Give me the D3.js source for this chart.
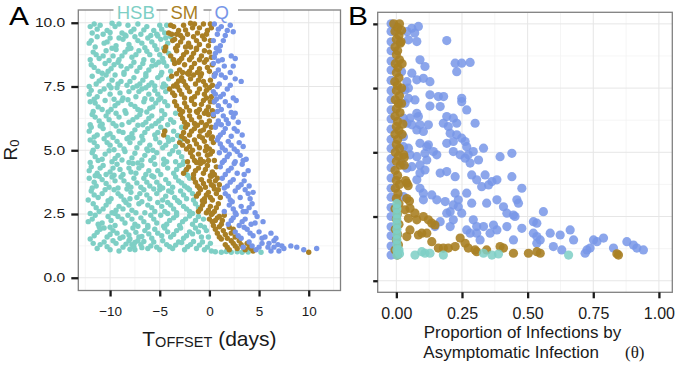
<!DOCTYPE html>
<html>
<head>
<meta charset="utf-8">
<script src="https://cdn.jsdelivr.net/npm/d3@7"></script>
<style>
  body { margin: 0; background: #fff; }
  text { font-family: "Liberation Sans", Helvetica, Arial, sans-serif; }
</style>
</head>
<body>
<div class="chart"></div>
<script>
// ---- data: panel A (T_offset in days, R0) ----
const hsbA = [
  [-11.6,9.95],[-11,9.9],[-10.3,9.7],[-9.5,9.85],[-8.8,9.6],[-8.2,9.9],[-7.6,9.75],[-6.9,9.55],[-6.3,9.85],[-5.6,9.7],[-5.0,9.9],[-4.5,9.6],[-11.8,9.6],[-10.7,9.55],[-9.1,9.95],[-7.2,9.95],[-5.9,9.5],[-4.8,9.75],[-8.5,9.52],
  [-11.9,9.3],[-11.3,9.45],[-10.6,9.2],[-10,9.4],[-9.4,9.1],[-8.7,9.35],[-8.1,9.15],[-7.5,9.45],[-6.8,9.2],[-6.2,9.4],[-5.5,9.1],[-4.9,9.35],[-4.2,9.2],[-3.9,9.45],[-11.5,9.05],[-9.8,9.0],[-7.9,9.0],[-6.5,9.02],[-4.6,9.0],
  [-11.7,8.85],[-11.1,8.6],[-10.4,8.9],[-9.7,8.7],[-9.1,8.55],[-8.5,8.85],[-7.8,8.65],[-7.1,8.9],[-6.6,8.55],[-6,8.75],[-5.3,8.95],[-4.7,8.6],[-4.1,8.8],[-3.7,8.55],[-12,8.55],[-10.1,8.52],[-8.2,8.97],[-5.7,8.52],
  [-11.9,8.35],[-11.2,8.1],[-10.5,8.4],[-9.9,8.2],[-9.2,8.45],[-8.6,8.05],[-7.9,8.3],[-7.3,8.1],[-6.7,8.4],[-6.1,8.15],[-5.4,8.35],[-4.8,8.05],[-4.3,8.3],[-3.9,8.1],[-10.8,8.02],[-8.9,8.3],[-6.4,8.0],[-5.1,8.45],
  [-11.8,7.9],[-11.4,7.6],[-10.8,7.8],[-10.1,7.55],[-9.5,7.95],[-8.9,7.7],[-8.3,7.55],[-7.6,7.85],[-7,7.6],[-6.4,7.9],[-5.8,7.65],[-5.2,7.85],[-4.6,7.6],[-4.1,7.8],[-12.1,7.5],[-9.8,7.75],[-7.3,7.52],[-5.5,7.52],[-8.6,7.98],
  [-11.9,7.35],[-11.3,7.1],[-10.6,7.4],[-10,7.2],[-9.3,7.45],[-8.7,7.05],[-8.1,7.3],[-7.4,7.1],[-6.8,7.4],[-6.1,7.2],[-5.5,7.35],[-4.9,7.05],[-4.4,7.3],[-11.6,7.0],[-9.6,7.0],[-7.7,7.45],[-5.8,7.0],[-6.5,7.02],
  [-12,6.9],[-11.2,6.7],[-10.5,6.95],[-9.9,6.6],[-9.2,6.85],[-8.5,6.55],[-7.9,6.8],[-7.2,6.6],[-6.6,6.9],[-6,6.65],[-5.4,6.85],[-4.8,6.55],[-4.2,6.75],[-11.7,6.52],[-10.2,6.5],[-8.2,6.98],[-6.3,6.5],[-5.1,6.98],
  [-11.8,6.4],[-11.1,6.15],[-10.4,6.35],[-9.7,6.05],[-9.1,6.3],[-8.4,6.45],[-7.7,6.2],[-7,6.4],[-6.4,6.1],[-5.8,6.35],[-5.1,6.15],[-4.5,6.4],[-3.9,6.2],[-3.4,6.45],[-12,6.0],[-10.8,6.02],[-8.8,6.0],[-6.7,6.0],[-4.2,6.0],
  [-11.9,5.9],[-11.3,5.6],[-10.7,5.85],[-10,5.65],[-9.4,5.95],[-8.7,5.7],[-8.1,5.5],[-7.5,5.8],[-6.8,5.55],[-6.2,5.85],[-5.5,5.6],[-4.9,5.9],[-4.2,5.5],[-3.6,5.75],[-2.8,5.9],[-11.6,5.52],[-9.7,5.5],[-7.2,5.98],[-5.2,5.7],
  [-12,5.4],[-11.3,5.15],[-10.6,5.45],[-10,5.2],[-9.3,5.35],[-8.6,5.05],[-8,5.3],[-7.3,5.1],[-6.7,5.4],[-6,5.2],[-5.4,5.45],[-4.7,5.1],[-4.1,5.35],[-3.4,5.15],[-11.7,5.0],[-9.6,5.02],[-7.7,5.48],[-5.7,5.0],[-2.9,5.4],
  [-11.8,4.9],[-11.2,4.6],[-10.5,4.85],[-9.8,4.55],[-9.2,4.8],[-8.5,4.95],[-7.8,4.7],[-7.2,4.5],[-6.5,4.8],[-5.9,4.6],[-5.3,4.9],[-4.6,4.65],[-4,4.85],[-3.4,4.55],[-2.8,4.75],[-12,4.52],[-10.1,4.98],[-8.1,4.52],[-6.2,4.98],[-3.7,4.98],
  [-11.9,4.35],[-11.3,4.1],[-10.7,4.4],[-10,4.15],[-9.3,4.45],[-8.7,4.05],[-8.1,4.3],[-7.4,4.1],[-6.8,4.4],[-6.1,4.2],[-5.5,4.45],[-4.9,4.05],[-4.2,4.3],[-3.6,4.1],[-3,4.4],[-2.4,4.2],[-11.5,4.0],[-9.6,4.02],[-7.7,4.48],[-5.8,4.0],
  [-12.1,3.9],[-11.4,3.6],[-10.8,3.85],[-10.1,3.55],[-9.5,3.8],[-8.9,3.95],[-8.2,3.65],[-7.6,3.9],[-6.9,3.55],[-6.3,3.75],[-5.6,3.95],[-5,3.6],[-4.4,3.85],[-3.7,3.55],[-3.1,3.8],[-2.5,3.6],[-2,3.9],[-11.8,3.52],[-9.2,3.52],[-7.3,3.72],[-4.7,3.52],
  [-11.9,3.4],[-11.2,3.15],[-10.5,3.45],[-9.9,3.1],[-9.2,3.3],[-8.6,3.05],[-7.9,3.35],[-7.3,3.15],[-6.6,3.45],[-6,3.1],[-5.3,3.3],[-4.7,3.05],[-4.1,3.4],[-3.5,3.15],[-2.9,3.4],[-2.3,3.1],[-1.7,3.3],[-12.2,3.05],[-10.2,3.02],[-8.3,3.48],[-5.6,3.48],
  [-11.7,2.9],[-11.1,2.6],[-10.4,2.85],[-9.8,2.55],[-9.1,2.8],[-8.4,2.95],[-7.8,2.65],[-7.1,2.9],[-6.5,2.55],[-5.8,2.75],[-5.2,2.95],[-4.5,2.6],[-3.9,2.85],[-3.3,2.55],[-2.6,2.8],[-2,2.6],[-1.4,2.9],[-12,2.52],[-9.5,2.52],[-6.8,2.98],[-4.2,2.52],
  [-12.2,2.2],[-11.5,2.45],[-10.8,2.15],[-10.2,2.4],[-9.5,2.05],[-8.8,2.3],[-8.2,2.45],[-7.5,2.1],[-6.9,2.35],[-6.2,2.05],[-5.6,2.3],[-4.9,2.45],[-4.3,2.1],[-3.6,2.35],[-3,2.05],[-2.4,2.3],[-1.7,2.1],[-1.1,2.4],[-11.1,2.0],[-7.2,2.02],[-4.6,2.02],[-0.9,2.05],
  [-11.6,1.65],[-11,1.9],[-10.3,1.6],[-9.7,1.85],[-9,1.55],[-8.4,1.8],[-7.7,1.95],[-7.1,1.6],[-6.5,1.85],[-5.8,1.55],[-5.2,1.75],[-4.5,1.95],[-3.9,1.6],[-3.3,1.85],[-2.6,1.55],[-2,1.8],[-1.4,1.95],[-0.8,1.6],[-0.3,1.85],[-12,1.52],[-10,1.98],[-8,1.52],[-6.2,1.98],
  [-11.3,1.15],[-10.6,1.4],[-10,1.1],[-9.4,1.35],[-8.7,1.2],[-8.1,1.45],[-7.5,1.1],[-6.9,1.3],[-6.2,1.15],[-5.6,1.4],[-5,1.1],[-4.3,1.3],[-3.7,1.15],[-3.1,1.4],[-2.5,1.1],[-1.9,1.3],[-1.3,1.15],[-0.7,1.4],[-0.2,1.2],[-7.8,1.3],[-7.2,1.45],[-11.7,1.35],[-9.1,1.05],[-4.7,1.45],
  [0.6,1.02],[1.2,1.0],[1.7,1.03],[2.2,1.0],[2.8,1.02],[3.3,1.0],[3.9,1.01],[5.2,1.0],[0.2,1.05],
  // in-between points
  [-11.3,9.75],[-10,9.62],[-9.8,9.98],[-7.9,9.65],[-6.6,9.72],[-5.3,9.55],[-4.3,9.9],[-12.0,9.85],
  [-12.1,9.2],[-10.3,9.25],[-9.1,9.4],[-7.2,9.3],[-5.8,9.25],[-5.2,9.48],[-4.4,9.4],[-8.4,9.48],
  [-11.4,8.75],[-10.7,8.7],[-9.4,8.95],[-8.8,8.7],[-7.4,8.75],[-6.3,8.88],[-5,8.75],[-4.4,8.95],
  [-11.6,8.25],[-10.2,8.1],[-9.6,8.35],[-8.3,8.2],[-7.6,8.45],[-7,8.25],[-5.8,8.3],[-4.6,8.45],
  [-11.1,7.72],[-10.4,7.95],[-9.2,7.6],[-8.0,7.7],[-6.7,7.75],[-6.1,7.55],[-4.9,7.95],[-4.4,7.52],
  [-12.1,7.2],[-11,7.3],[-9.9,7.45],[-9,7.25],[-7.1,7.3],[-6.4,7.45],[-5.2,7.2],[-4.7,7.48],
  [-11.5,6.85],[-10.8,6.6],[-9.5,6.75],[-8.8,6.95],[-7.5,6.72],[-6.9,6.55],[-5.7,6.7],[-4.5,6.9],
  [-11.5,6.3],[-10.1,6.2],[-9.4,6.45],[-8.1,6.1],[-7.3,6.3],[-6.1,6.25],[-5.4,6.05],[-4.8,6.25],[-3.6,6.1],
  [-12.1,5.75],[-11,5.95],[-10.3,5.6],[-9.1,5.75],[-7.8,5.65],[-6.5,5.7],[-5.8,5.95],[-4.5,5.78],[-3.2,5.58],
  [-11.6,5.3],[-10.3,5.3],[-9.0,5.2],[-8.3,5.45],[-7,5.28],[-6.3,5.05],[-5.0,5.3],[-4.4,5.2],[-3.7,5.42],
  [-11.5,4.75],[-10.8,4.65],[-9.5,4.68],[-8.8,4.62],[-7.5,4.88],[-6.8,4.62],[-5.6,4.72],[-4.3,4.55],[-3.1,4.92],[-2.6,4.55],
  [-12.1,4.2],[-11,4.3],[-10.4,4.05],[-9.7,4.3],[-9,4.25],[-7.9,4.15],[-7.1,4.3],[-6.4,4.05],[-5.2,4.2],[-4.6,4.45],[-3.3,4.25],[-2.7,4.45],[-2.2,4.02],
  [-11.6,3.75],[-11.1,3.98],[-10.4,3.7],[-9.8,3.95],[-8.6,3.8],[-7.9,3.55],[-6.6,3.9],[-6.0,3.6],[-5.3,3.75],[-4.1,3.7],[-3.4,3.95],[-2.8,3.72],[-2.2,3.52],
  [-11.6,3.25],[-10.8,3.3],[-9.6,3.45],[-8.9,3.2],[-8.0,3.1],[-7.0,3.3],[-6.3,3.25],[-5.0,3.45],[-4.4,3.2],[-3.8,3.35],[-3.2,3.02],[-2.6,3.25],[-2,3.45],[-1.6,3.05],
  [-11.4,2.75],[-10.7,2.7],[-10.1,2.98],[-9.4,2.65],[-8.7,2.7],[-8.1,2.85],[-7.4,2.55],[-6.2,2.85],[-5.5,2.6],[-4.8,2.8],[-4.2,2.95],[-3.6,2.7],[-3.0,2.95],[-2.3,2.7],[-1.7,2.52],[-1.1,2.75],
  [-11.8,2.3],[-11.2,2.1],[-9.9,2.25],[-9.2,2.4],[-8.5,2.15],[-7.8,2.3],[-6.6,2.2],[-5.9,2.45],[-5.3,2.15],[-4.0,2.25],[-3.3,2.45],[-2.7,2.2],[-2.0,2.42],[-1.4,2.25],[-0.6,2.3],
  [-11.3,1.78],[-10.6,1.95],[-10.0,1.7],[-9.3,1.75],[-8.7,1.6],[-8.1,1.68],[-7.4,1.78],[-6.8,1.62],[-6.1,1.72],[-5.5,1.9],[-4.8,1.65],[-4.2,1.8],[-3.6,1.7],[-2.9,1.95],[-2.3,1.65],[-1.7,1.72],[-1.1,1.8],[-0.5,1.98],[-0.1,1.6],
  [-11.0,1.3],[-10.3,1.22],[-9.7,1.45],[-8.4,1.32],[-7.5,1.38],[-6.6,1.42],[-5.9,1.25],[-5.3,1.2],[-4.0,1.22],[-3.4,1.28],[-2.8,1.38],[-2.2,1.22],[-1.6,1.42],[-1.0,1.28],[-0.5,1.1],[0.1,1.35],[-8.0,1.12],[-6.8,1.18],[-7.6,1.22]
];
const smA = [
  [-4.1,9.6],[-3.6,9.85],[-3.1,9.7],[-2.6,9.9],[-2.2,9.55],[-1.7,9.8],[-1.2,9.6],[-0.6,9.95],[-0.2,9.7],[0.1,9.95],[-3.8,9.55],[-2.9,9.5],[-1.5,9.95],[0.2,9.8],
  [-3.7,9.3],[-3.2,9.1],[-2.7,9.4],[-2.1,9.2],[-1.6,9.45],[-1,9.15],[-0.5,9.35],[-0.1,9.1],[-3.4,9.0],[-2.4,9.05],[-1.3,9.0],[-4.4,9.05],
  [-4.5,8.9],[-3.9,8.7],[-3.3,8.9],[-2.8,8.6],[-2.3,8.85],[-1.8,8.65],[-1.3,8.95],[-0.8,8.7],[-0.3,8.55],[0,8.85],[-3.0,8.52],[-2,8.55],
  [-3.5,8.4],[-3,8.15],[-2.5,8.35],[-2,8.1],[-1.5,8.4],[-1,8.2],[-0.5,8.45],[0,8.1],[0.3,8.35],[-3.3,8.0],[-2.2,8.02],[-0.8,8.0],
  [-3.8,7.9],[-3.3,7.6],[-2.8,7.85],[-2.4,7.55],[-1.9,7.8],[-1.4,7.6],[-0.9,7.9],[-0.4,7.55],[0.1,7.75],[0.5,7.95],[-3.6,7.52],[-2.1,7.98],[-0.3,7.35],
  [-4,7.4],[-3.5,7.15],[-3,7.35],[-2.5,7.05],[-2,7.3],[-1.5,7.1],[-1,7.4],[-0.5,7.2],[0,7.45],[0.2,7.1],[-3.2,7.48],[-1.8,7.02],
  [-3.5,6.9],[-3,6.6],[-2.5,6.85],[-2,6.55],[-1.5,6.8],[-1,6.6],[-0.6,6.95],[-0.1,6.7],[0.4,6.9],[-2.7,6.52],[-1.3,6.52],[0.3,6.55],
  [-2.9,6.4],[-2.5,6.1],[-2,6.35],[-1.5,6.05],[-1,6.3],[-0.5,6.45],[0,6.15],[0.4,6.35],[-2.2,6.0],[-1.2,6.48],[-0.3,6.0],
  [-4.6,5.6],[-4.5,5.75],[-2.4,5.9],[-2,5.6],[-1.5,5.85],[-1,5.55],[-0.6,5.8],[-0.2,5.6],[0.2,5.9],[-2.8,5.55],[-1.2,5.98],[0.3,5.52],
  [-3,5.3],[-2.5,5.45],[-2,5.15],[-1.5,5.4],[-1,5.1],[-0.5,5.35],[0,5.05],[0.4,5.3],[-1.7,5.0],[-0.7,5.48],[-2.3,5.05],
  [-1.9,4.9],[-1.5,4.6],[-1.1,4.85],[-0.6,4.55],[-0.2,4.8],[0.3,4.95],[0.5,4.6],[-1.3,4.52],[-0.4,4.98],[-2.2,4.55],
  [-2.6,4.1],[-2.1,4.35],[-1.6,4.05],[-1.1,4.3],[-0.6,4.1],[-0.2,4.4],[0.3,4.15],[0.7,4.35],[-0.9,4.48],[0.1,4.0],
  [-1.6,3.9],[-1.2,3.6],[-0.8,3.85],[-0.4,3.55],[0,3.8],[0.4,3.6],[0.8,3.9],[1,3.65],[-1,3.52],[0.2,3.98],
  [-1.3,3.2],[-0.9,3.45],[-0.5,3.1],[-0.1,3.35],[0.3,3.05],[0.7,3.3],[1.1,3.15],[-0.7,3.02],[0.5,3.48],
  [-1.1,2.6],[-0.7,2.85],[-0.3,2.55],[0.1,2.8],[0.5,2.6],[0.9,2.9],[-0.5,2.98],[0.3,2.52],
  [0,2.3],[0.4,2.05],[0.8,2.35],[1.2,2.1],[1.5,2.45],[0.2,2.48],[1,2.0],
  [0.6,1.9],[1,1.6],[1.4,1.85],[1.8,1.55],[2.2,1.75],[2.6,1.6],[1.2,1.52],[2,1.98],
  [1.6,1.3],[2,1.1],[2.4,1.35],[2.8,1.15],[3.2,1.3],[3.6,1.1],[4,1.2],[4.4,1.05],[3,1.45],[2.2,1.45],[10,1.0],
  // in-between points
  [-3.9,9.9],[-3.3,9.55],[-2.4,9.72],[-1.9,9.98],[-1,9.8],[-0.3,9.55],
  [-3.5,9.35],[-2.9,9.25],[-1.9,9.05],[-1.3,9.3],[-0.7,9.48],[0.1,9.3],
  [-3.6,8.55],[-2.6,8.75],[-1.6,8.8],[-1.0,8.55],[-0.5,8.9],[0.2,8.65],
  [-3.1,8.45],[-2.7,8.05],[-1.8,8.25],[-1.2,8.05],[-0.2,8.25],
  [-3.1,7.72],[-2.6,7.7],[-1.6,7.95],[-1.1,7.75],[-0.6,7.7],[0.3,7.55],
  [-3.7,7.25],[-2.8,7.2],[-2.2,7.45],[-1.2,7.25],[-0.3,7.05],
  [-3.3,6.75],[-2.3,6.7],[-1.8,6.95],[-0.8,6.8],[-0.3,6.55],[0.1,6.9],
  [-2.7,6.25],[-1.8,6.2],[-0.8,6.1],[-0.1,6.4],
  [-2.6,5.7],[-1.8,5.75],[-0.9,5.75],[-0.4,5.95],[0,5.7],
  [-2.7,5.2],[-2.2,5.35],[-1.3,5.25],[-0.3,5.15],[0.2,5.45],
  [-1.7,4.75],[-0.9,4.65],[-0.1,4.6],[0.1,4.85],
  [-2.3,4.25],[-1.4,4.2],[-0.4,4.25],[0.5,4.05],
  [-1.4,3.75],[-0.6,3.7],[0.2,3.65],[0.6,3.8],
  [-1.1,3.3],[-0.3,3.25],[0.1,3.15],[0.9,3.45],
  [-0.9,2.7],[-0.1,2.65],[0.7,2.75],
  [0.3,2.2],[0.6,2.25],[1.0,2.4],[1.3,2.25],
  [0.8,1.75],[1.6,1.7],[2.4,1.9],
  [1.8,1.2],[2.6,1.25],[3.4,1.2],[3.8,1.35],[4.2,1.15]
];
const qA = [
  [0.5,9.95],[1.2,9.85],[1.8,9.7],[2.4,9.65],[0.8,9.55],[1.6,9.5],
  [0.4,9.3],[1.1,9.1],[0.7,9.0],
  [0.6,8.8],[1.3,8.55],[2.2,8.7],[2.6,8.6],[0.9,8.5],
  [0.4,8.4],[0.9,8.15],[1.5,8.3],[0.6,8.0],[2.1,8.05],
  [0.5,7.9],[1,7.6],[1.6,7.85],[2.1,7.55],[3.2,7.7],[0.8,7.5],
  [0.4,7.3],[1.1,7.1],[1.8,7.4],[0.7,7.0],[2.4,7.05],
  [0.5,6.9],[1.2,6.6],[2,6.75],[2.7,6.95],[0.8,6.52],
  [0.4,6.4],[0.9,6.15],[1.4,6.35],[1.9,6.05],[2.4,6.3],[2.9,6.1],[1.2,6.0],[2.2,6.48],
  [0.6,5.9],[1.1,5.6],[1.6,5.85],[2.2,5.55],[2.8,5.75],[3.3,5.6],[0.9,5.5],
  [0.8,5.4],[1.3,5.1],[1.9,5.35],[2.5,5.05],[3,5.3],[3.4,5.15],[1.6,5.0],
  [1,4.9],[1.5,4.6],[2,4.85],[2.6,4.55],[3.1,4.8],[3.7,4.65],[1.3,4.52],
  [1.1,4.35],[1.6,4.05],[2.2,4.3],[2.8,4.1],[3.3,4.45],[3.9,4.2],[2.5,4.48],
  [1.3,3.9],[1.8,3.6],[2.4,3.85],[2.9,3.55],[3.5,3.8],[4,3.6],[1.5,3.52],
  [1.6,3.3],[2.1,3.05],[2.6,3.4],[3.1,3.15],[3.6,3.45],[4.1,3.1],[4.4,3.35],
  [1.5,2.6],[2,2.85],[2.6,2.55],[3.2,2.8],[3.7,2.6],[4.3,2.9],[2.3,2.98],[4.6,2.55],
  [1.9,2.1],[2.4,2.35],[3,2.05],[3.6,2.3],[4.2,2.1],[4.8,2.4],[5.4,2.2],[2.7,2.48],
  [2.6,1.8],[3.2,1.55],[3.8,1.9],[4.4,1.65],[5,1.8],[5.6,1.6],[6.2,1.75],[6.7,1.55],[3.5,1.98],
  [3.4,1.2],[4,1.4],[4.7,1.1],[5.3,1.35],[5.9,1.2],[6.5,1.45],[6.9,1.3],[7.5,1.15],[8.2,1.25],[8.8,1.2],[10.8,1.15],[6.2,1.05],[7,1.05],
  // in-between points
  [0.9,9.75],[2.1,9.9],[1.4,9.3],[0.5,8.65],[1.0,8.9],[2.4,8.3],[1.2,7.95],[2.6,7.8],[1.4,7.2],[0.6,7.2],[1.6,6.9],[0.9,6.75],
  [1.7,6.2],[2.6,6.45],[0.7,6.0],[1.4,5.7],[2.5,5.85],[1.1,5.25],[2.2,5.2],[2.8,4.95],[1.8,4.75],[3.4,4.6],[1.9,4.2],[3.5,4.05],
  [2.1,3.75],[3.2,3.65],[1.9,3.2],[3.9,3.3],[2.4,2.7],[3.4,2.6],[4.0,2.75],[2.2,2.25],[3.3,2.2],[4.6,2.15],[2.9,1.65],[4.1,1.75],
  [5.3,1.55],[4.3,1.25],[5.0,1.2],[6.0,1.35],[7.3,1.25],[9.5,1.1],[6.5,1.2]
];

// ---- data: panel B (theta, R0) ----
const qStripB = [
  [-0.02,1.0],[-0.02,1.35],[-0.02,1.75],[-0.02,2.1],[-0.02,2.5],[-0.02,2.85],[-0.02,3.25],[-0.02,3.6],[-0.02,4.0],
  [-0.02,4.4],[-0.02,4.75],[-0.02,5.15],[-0.02,5.5],[-0.02,5.9],[-0.02,6.3],[-0.02,6.65],[-0.02,7.05],[-0.02,7.4],
  [-0.02,7.8],[-0.02,8.2],[-0.02,8.55],[-0.02,8.95],[-0.02,9.3],[-0.02,9.7],[-0.02,10.0]
];
const qB = [
  [0.059,9.83],[0.084,9.9],[0.04,9.7],[0.07,9.64],[0.046,9.38],[0.078,9.31],[0.192,9.35],
  [0.09,8.6],[0.109,8.34],[0.224,8.47],[0.249,8.47],[0.281,8.5],[0.23,8.14],
  [0.02,8.14],[0.059,8.08],[0.103,7.88],[0.078,7.82],[0.04,7.75],[0.128,7.75],[0.046,7.5],[0.033,7.43],
  [0.128,7.24],[0.16,7.17],[0.18,7.17],[0.249,7.1],[0.249,6.97],[0.046,7.1],[0.071,7.04],
  [0.128,6.8],[0.167,6.78],[0.268,6.65],[0.078,6.52],
  [0.027,6.33],[0.052,6.33],[0.084,6.39],[0.04,6.13],[0.059,6.07],[0.09,6.07],[0.122,6.07],[0.192,6.39],[0.217,6.33],
  [0.179,6.13],[0.198,6.0],[0.23,6.13],[0.3,6.13],[0.078,5.87],[0.103,5.81],
  [0.205,5.74],[0.23,5.68],[0.249,5.55],[0.262,5.42],[0.268,5.22],[0.217,5.42],[0.192,5.35],
  [0.027,5.22],[0.046,5.16],[0.09,5.35],[0.116,5.22],[0.122,5.29],[0.052,4.9],[0.078,4.83],[0.109,4.96],[0.141,5.03],[0.154,4.9],[0.116,4.7],
  [0.217,5.03],[0.243,4.9],[0.274,4.9],[0.262,4.77],[0.293,5.03],[0.332,5.16],[0.313,4.7],[0.281,4.58],[0.44,4.96],[0.395,4.83],
  [0.059,4.44],[0.09,4.51],[0.109,4.31],[0.09,4.19],[0.078,3.93],[0.167,4.19],[0.192,4.25],[0.224,4.05],[0.287,4.12],[0.306,3.93],
  [0.338,4.12],[0.364,3.86],[0.351,3.73],[0.325,3.66],[0.383,3.93],[0.44,4.05],[0.478,3.6],
  [0.09,3.6],[0.103,3.41],[0.135,3.34],[0.103,3.15],[0.154,3.15],[0.186,3.08],
  [0.224,3.41],[0.236,3.15],[0.217,2.95],[0.205,2.69],[0.192,2.63],[0.236,2.88],[0.249,2.63],[0.268,3.41],[0.287,3.02],[0.344,3.02],
  [0.383,3.15],[0.408,2.88],[0.421,2.63],[0.446,2.56],[0.459,3.15],[0.465,3.02],[0.421,2.11],[0.452,2.5],
  [0.56,2.69],[0.522,2.3],[0.535,2.24],[0.478,2.04],[0.37,2.17],[0.332,2.11],[0.306,2.11],[0.293,2.37],[0.281,1.85],[0.268,1.98],
  [0.205,2.11],[0.217,2.37],[0.167,2.3],[0.147,2.11],[0.306,1.85],[0.319,1.59],[0.357,1.85],[0.383,1.98],[0.446,1.59],[0.522,1.85],
  [0.535,1.72],[0.548,1.59],[0.586,1.85],[0.624,1.78],[0.662,1.98],[0.675,1.59],[0.598,1.33],[0.63,1.2],[0.535,1.46],
  [0.751,1.59],[0.764,1.52],[0.789,1.66],[0.726,1.2],[0.738,1.27],[0.719,1.07],[0.878,1.52],[0.903,1.39],[0.916,1.27],[0.941,1.2],[0.827,1.27],
  [0.02,4.58],[0.04,4.38],[0.033,6.91],[0.027,5.61],[0.027,3.28]
];
const smStripB = [
  [-0.01,10.0],[0.012,10.0],[0.005,9.85],[-0.005,9.7],[0.01,9.55],[0.0,9.4],[0.015,9.25],[-0.005,9.1],[0.005,8.95],[0.0,8.8],
  [0.012,8.6],[-0.004,8.45],[0.006,8.3],[0.0,8.1],[0.01,7.9],[-0.006,7.75],[0.004,7.6],[0.0,7.4],[0.012,7.2],[-0.004,7.05],
  [0.008,6.9],[0.0,6.7],[0.014,6.55],[-0.005,6.4],[0.005,6.2],[0.0,6.0],[0.01,5.85],[-0.005,5.7],[0.005,5.5],[0.0,5.3],
  [0.012,5.15],[-0.004,5.0],[0.008,4.85],[0.0,4.65],[0.015,4.5],[-0.005,4.3],[0.005,4.1],[0.0,3.9],[0.012,3.75],[-0.004,3.6],
  [0.006,3.4],[0.0,3.2],[0.01,3.0],[-0.005,2.8],[0.004,2.6],[0.0,2.4],[0.01,2.2],[-0.004,2.0],[0.005,1.8],[0.0,1.6],
  [0.008,1.4],[-0.005,1.2],[0.004,1.0],
  [0.02,9.75],[0.018,9.3],[0.022,8.45],[0.02,6.9],[0.022,5.7],[0.028,4.9],[0.03,4.8],[0.04,3.8],[0.045,3.7],[0.035,3.9],
  [0.05,3.1],[0.04,3.2],[0.025,6.1],[0.02,7.5],[0.03,4.5]
];
const smB = [
  [0.033,2.76],[0.052,2.82],[0.071,2.63],[0.046,2.43],[0.078,2.37],[0.103,2.5],[0.122,2.37],[0.135,2.24],[0.147,2.17],
  [0.052,1.98],[0.04,1.72],[0.097,1.85],[0.116,1.85],[0.084,1.78],[0.135,1.52],[0.16,1.27],[0.179,1.27],[0.198,1.27],
  [0.224,1.33],[0.243,1.66],[0.262,1.46],[0.274,1.27],[0.3,1.2],[0.306,1.13],[0.344,1.2],[0.395,1.33],[0.408,1.27],
  [0.446,1.07],[0.503,1.07],[0.548,1.07],[0.535,1.13],[0.846,1.0],[0.84,1.05]
];
const hsbStripB = [
  [0.002,1.0],[0.002,1.2],[0.002,1.4],[0.002,1.6],[0.002,1.8],[0.002,2.0],[0.002,2.2],[0.002,2.4],[0.002,2.6],[0.002,2.8],
  [0.002,3.0],[0.01,1.2],[0.012,1.05]
];
const hsbB = [
  [0.071,1.0],[0.097,1.13],[0.109,1.07],[0.128,1.07],[0.179,1.0],[0.332,1.07],[0.364,1.0],[0.389,1.04],[0.656,1.0]
];

const xTicksA = [-10, -5, 0, 5, 10];
const yTicks = [0, 2.5, 5, 7.5, 10];
const xTicksB = [0, 0.25, 0.5, 0.75, 1];
const colours = { HSB: "#7ecfc5", SM: "#a97f24", Q: "#7896e8" };

const svg = d3.select(".chart").append("svg")
  .attr("width", 677)
  .attr("height", 366);

// scales
const xA = d3.scaleLinear().domain([-13.2, 13.2]).range([78.3, 340.5]);
const yA = d3.scaleLinear().domain([-0.5, 10.5]).range([290.5, 10]);
const xB = d3.scaleLinear().domain([-0.071, 1.051]).range([377.7, 672.3]);
const yB = d3.scaleLinear().domain([-0.45, 10.45]).range([292.3, 12.3]);

// panel background + grid
function panel(x, y, xMajor, yMajor) {
  const [x0, x1] = x.range();
  const [y1, y0] = y.range();
  const xs = [], ys = [];
  for (let i = 0; i < xMajor.length - 1; i++) xs.push((xMajor[i] + xMajor[i + 1]) / 2);
  for (let i = 0; i < yMajor.length - 1; i++) ys.push((yMajor[i] + yMajor[i + 1]) / 2);
  const stepX = xMajor[1] - xMajor[0], stepY = yMajor[1] - yMajor[0];
  xs.push(xMajor[0] - stepX / 2, xMajor[xMajor.length - 1] + stepX / 2);
  ys.push(yMajor[yMajor.length - 1] + stepY / 2);
  const g = svg.append("g");
  g.append("rect").attr("x", x0).attr("y", y0).attr("width", x1 - x0).attr("height", y1 - y0).attr("fill", "#fff");
  g.selectAll(".minx").data(xs.filter(d => x(d) > x0 && x(d) < x1)).enter().append("line")
    .attr("x1", d => x(d)).attr("x2", d => x(d)).attr("y1", y0).attr("y2", y1)
    .attr("stroke", "#f3f3f3").attr("stroke-width", 0.8);
  g.selectAll(".miny").data(ys.filter(d => y(d) > y0 && y(d) < y1)).enter().append("line")
    .attr("y1", d => y(d)).attr("y2", d => y(d)).attr("x1", x0).attr("x2", x1)
    .attr("stroke", "#f3f3f3").attr("stroke-width", 0.8);
  g.selectAll(".majx").data(xMajor).enter().append("line")
    .attr("x1", d => x(d)).attr("x2", d => x(d)).attr("y1", y0).attr("y2", y1)
    .attr("stroke", "#e6e6e6").attr("stroke-width", 1);
  g.selectAll(".majy").data(yMajor).enter().append("line")
    .attr("y1", d => y(d)).attr("y2", d => y(d)).attr("x1", x0).attr("x2", x1)
    .attr("stroke", "#e6e6e6").attr("stroke-width", 1);
}

function border(x, y) {
  const [x0, x1] = x.range();
  const [y1, y0] = y.range();
  svg.append("rect").attr("x", x0).attr("y", y0).attr("width", x1 - x0).attr("height", y1 - y0)
    .attr("fill", "none").attr("stroke", "#808080").attr("stroke-width", 1.3);
}

function styleAxis(g, size) {
  g.select(".domain").remove();
  g.selectAll(".tick line").attr("stroke", "#1a1a1a").attr("stroke-width", 2.3);
  g.selectAll(".tick text").attr("fill", "#1a1a1a")
    .style("font-family", '"Liberation Sans", Helvetica, Arial, sans-serif')
    .style("font-size", size + "px");
}

function dots(data, x, y, key, r, opacity) {
  svg.append("g").selectAll("circle").data(data).enter().append("circle")
    .attr("cx", d => x(d[0]))
    .attr("cy", d => y(d[1]))
    .attr("r", r)
    .attr("fill", colours[key])
    .attr("fill-opacity", opacity);
}

// ---------- panel A ----------
panel(xA, yA, xTicksA, yTicks);
dots(hsbA, xA, yA, "HSB", 2.7, 1);
dots(smA, xA, yA, "SM", 2.7, 1);
dots(qA, xA, yA, "Q", 2.7, 1);
border(xA, yA);

const xAxisA = svg.append("g").attr("transform", "translate(0,290.5)")
  .call(d3.axisBottom(xA).tickValues(xTicksA).tickSize(6).tickPadding(10));
styleAxis(xAxisA, 13.5);

const yAxisA = svg.append("g").attr("transform", "translate(78.3,0)")
  .call(d3.axisLeft(yA).tickValues(yTicks).tickFormat(d3.format(".1f")).tickSize(7).tickPadding(5));
styleAxis(yAxisA, 12);
yAxisA.selectAll(".tick text").attr("x", -13 / 1.3).attr("transform", "scale(1.3,1)");

// group labels sitting on the top border
const heads = [
  { key: "HSB", x: 116.7, box: [113.5, 156.5] },
  { key: "SM", x: 170.5, box: [167.5, 203.5] },
  { key: "Q", x: 214.5, box: [211.5, 238] }
];
heads.forEach(h => {
  svg.append("rect").attr("x", h.box[0]).attr("y", 3).attr("width", h.box[1] - h.box[0]).attr("height", 17).attr("fill", "#fff");
  svg.append("text").attr("x", h.x).attr("y", 18.5)
    .style("font-size", "18.5px").attr("fill", colours[h.key]).text(h.key);
});

// axis titles A
const tOff = svg.append("text").attr("x", 209.4).attr("y", 346).attr("text-anchor", "middle").attr("fill", "#1a1a1a");
tOff.append("tspan").style("font-size", "21px").text("T");
tOff.append("tspan").style("font-size", "14.5px").attr("dy", 1).text("OFFSET");
tOff.append("tspan").style("font-size", "21px").attr("dy", -1).text(" (days)");

const r0 = svg.append("text").attr("transform", "translate(17,150) rotate(-90)")
  .attr("text-anchor", "middle").attr("fill", "#1a1a1a");
r0.append("tspan").style("font-size", "19px").text("R");
r0.append("tspan").style("font-size", "13px").attr("dy", 2).text("0");

svg.append("text").attr("x", 9).attr("y", 25).attr("transform", "translate(-1.8,0) scale(1.2,1)")
  .style("font-size", "25px").attr("fill", "#000").text("A");

// ---------- panel B ----------
panel(xB, yB, xTicksB, yTicks);
dots(qStripB, xB, yB, "Q", 4.6, 0.85);
dots(qB, xB, yB, "Q", 4.6, 0.85);
dots(smStripB, xB, yB, "SM", 4.6, 0.9);
dots(smB, xB, yB, "SM", 4.6, 0.9);
dots(hsbStripB, xB, yB, "HSB", 4.6, 0.9);
dots(hsbB, xB, yB, "HSB", 4.6, 0.85);
border(xB, yB);

const xAxisB = svg.append("g").attr("transform", "translate(0,292.3)")
  .call(d3.axisBottom(xB).tickValues(xTicksB).tickFormat(d3.format(".2f")).tickSize(6).tickPadding(9.5));
styleAxis(xAxisB, 16);

const yAxisB = svg.append("g").attr("transform", "translate(377.7,0)")
  .call(d3.axisLeft(yB).tickValues(yTicks).tickFormat("").tickSize(4.5));
styleAxis(yAxisB, 12);

svg.append("text").attr("x", 522.5).attr("y", 338).attr("text-anchor", "middle")
  .style("font-size", "17px").attr("fill", "#1a1a1a").text("Proportion of Infections by");
svg.append("text").attr("x", 423.3).attr("y", 358)
  .style("font-size", "17px").attr("fill", "#1a1a1a").text("Asymptomatic Infection");
svg.append("text").attr("x", 625).attr("y", 358)
  .style("font-family", '"Liberation Serif", "DejaVu Serif", serif')
  .style("font-size", "17px").attr("fill", "#1a1a1a").text("(θ)");

svg.append("text").attr("x", 348).attr("y", 25).attr("transform", "translate(-69.6,0) scale(1.2,1)")
  .style("font-size", "25px").attr("fill", "#000").text("B");
</script>
</body>
</html>
